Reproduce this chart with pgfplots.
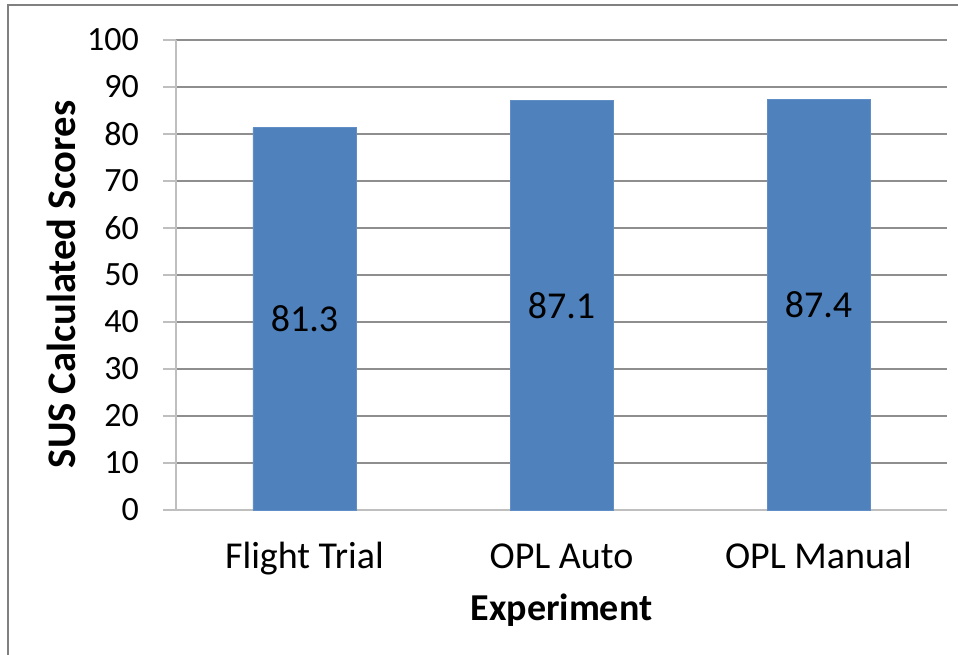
\documentclass[border=0pt]{standalone}
\usepackage{fontspec}
\setmainfont{Carlito}
\usepackage{pgfplots}
\pgfplotsset{compat=1.18}
\definecolor{barblue}{HTML}{4F81BD}
\definecolor{gridgray}{HTML}{8E8E8E}
\definecolor{axisgray}{HTML}{BFBFBF}
\definecolor{framegray}{HTML}{808080}
\begin{document}
\begin{tikzpicture}
\useasboundingbox (0,0) rectangle (479pt,327pt);
\clip (0,0) rectangle (479pt,327pt);
\draw[line width=1pt, framegray] (4pt,-5pt) -- (4pt,324.5pt) -- (490pt,324.5pt);
\begin{axis}[
  at={(88pt,72pt)}, anchor=south west,
  scale only axis, width=385.5pt, height=235pt,
  xmin=-0.5, xmax=2.5, ymin=0, ymax=100,
  xtick={0,1,2}, xticklabels={Flight Trial, OPL Auto, OPL Manual},
  ytick={0,10,...,100},
  axis lines*=left,
  axis line style={draw=axisgray, line width=0.75pt},
  ymajorgrids, grid style={draw=gridgray, line width=0.6pt},
  tick align=outside, major tick length=6.5pt,
  ytick style={draw=axisgray, line width=0.75pt},
  xtick style={draw=none},
  font=\fontsize{17}{20}\selectfont,
  /pgf/number format/assume math mode=true,
  yticklabel style={anchor=east, xshift=-8.5pt},
  xticklabel style={anchor=base, yshift=-22.5pt, font=\fontsize{19}{22}\selectfont},
  xlabel={\textbf{Experiment}},
  ylabel={\textbf{SUS Calculated Scores}},
  xlabel style={at={(axis description cs:0.5,-0.213)}, anchor=center, font=\fontsize{19}{22}\selectfont},
  ylabel style={at={(axis description cs:-0.148,0.48)}, anchor=center, font=\fontsize{20.3}{24}\selectfont},
  clip=false,
]
\addplot[ybar, bar width=51.5pt, bar shift=0pt, fill=barblue, draw=barblue!90!white, line width=0.4pt]
  coordinates {(0,81.3) (1,87.1) (2,87.4)};
\addplot[draw=none, mark=none, nodes near coords, point meta=explicit symbolic,
  nodes near coords style={anchor=center, font=\fontsize{19}{22}\selectfont}]
  table[meta=lab] {
x y lab
0 40.65 81.3
1 43.55 87.1
2 43.70 87.4
};
\end{axis}
\end{tikzpicture}
\end{document}
